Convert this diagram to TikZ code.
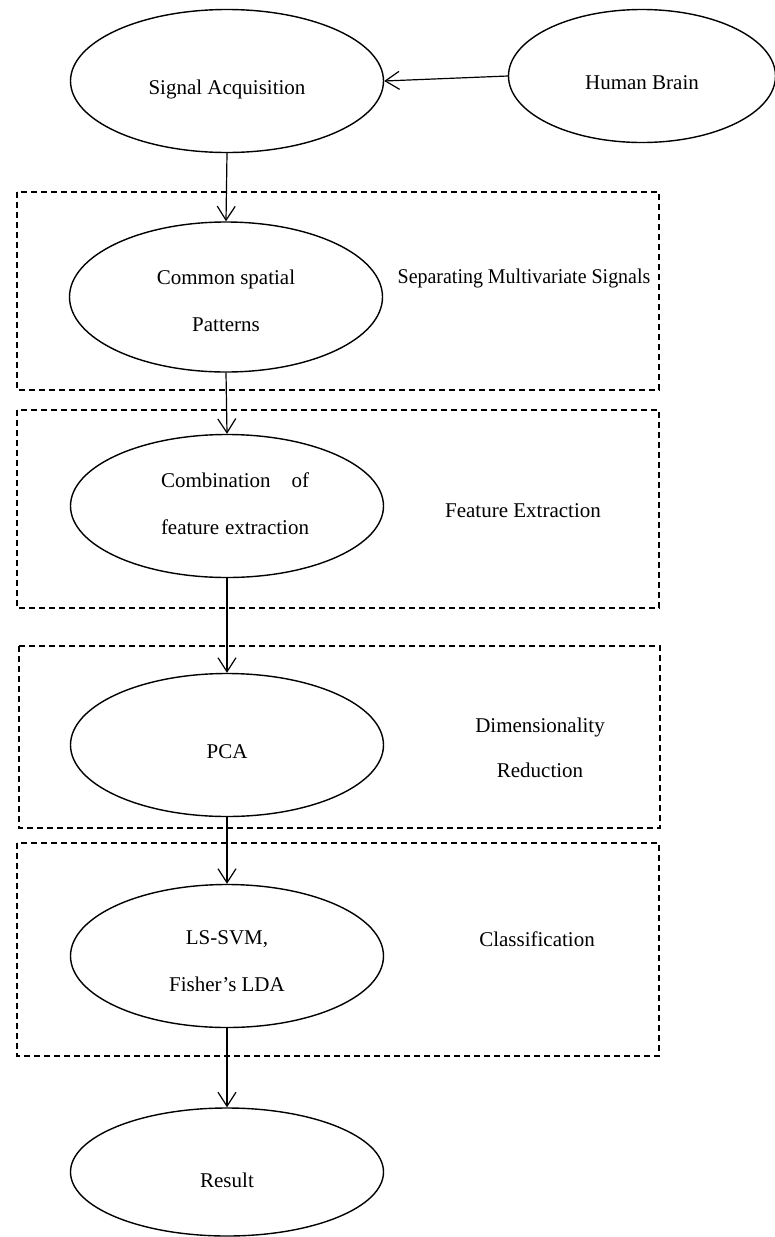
\documentclass[tikz,border=0pt]{standalone}
\usepackage{fontspec}
\setmainfont{Liberation Serif}
\usepackage{graphicx}
\usetikzlibrary{arrows.meta,positioning,shapes.geometric}

\newcommand\intext[2][4pt]{\raisebox{-#1}[\height][\depth]{\begin{tabular}{@{}c@{}}#2\end{tabular}}}

\begin{document}
\begin{tikzpicture}[x=0.5pt, y=-0.5pt, font=\fontsize{10.5}{12.6}\selectfont,
  stage/.style={draw, ellipse, line width=0.7pt, minimum width=156.5pt, minimum height=71.5pt, inner sep=0pt},
  group/.style={dash pattern=on 3pt off 2pt, line width=0.7pt},
  flow/.style={-{Straight Barb[length=7pt,width=9pt]}, line width=0.6pt},
  note/.style={align=center}]
\useasboundingbox (0,0) rectangle (775,1237);
% dashed groups
\draw[group] (17,192) rectangle (659,390);
\draw[group] (17,410) rectangle (659,608);
\draw[group] (19,646) rectangle (660,828);
\draw[group] (17,843) rectangle (659,1056);
% stages
\node[stage] (sa) at (227,81) {\intext{Signal Acquisition}};
\node[stage, minimum width=133.5pt, minimum height=66.5pt] (hb) at (642,76) {\intext{Human Brain}};
\node[stage, minimum height=75pt] (csp) at (226,297) {\intext[3pt]{Common spatial\\[11pt] Patterns}};
\node[stage] (cfe) at (227,506) {\intext[0pt]{\hspace*{8pt}\makebox[74pt][s]{Combination of}\\[11pt]
  \hspace*{8pt}\makebox[74pt][s]{feature extraction}}};
\node[stage] (pca) at (227,745) {\intext{PCA}};
\node[stage] (cls) at (227,956) {\intext[3.5pt]{LS-SVM,\\[11pt] Fisher's LDA}};
\node[stage, minimum height=64pt] (res) at (227,1172) {\intext[5pt]{Result}};
% group labels
\node[note] (sepl) at (524,278) {\scalebox{0.95}[1]{Separating Multivariate Signals}};
\node[note] (fel) at (523,511) {Feature Extraction};
\node[note] (drl) at (540,748) {Dimensionality\\[10pt] Reduction};
\node[note] (cll) at (537,939) {Classification};
% flow
\draw[flow] (hb.west) -- (sa.east);
\draw[flow] (sa.south) -- (csp.north);
\draw[flow] (csp.south) -- (cfe.north);
\draw[flow] (cfe.south) -- (pca.north);
\draw[flow] (pca.south) -- (cls.north);
\draw[flow] (cls.south) -- (res.north);
\end{tikzpicture}
\end{document}
